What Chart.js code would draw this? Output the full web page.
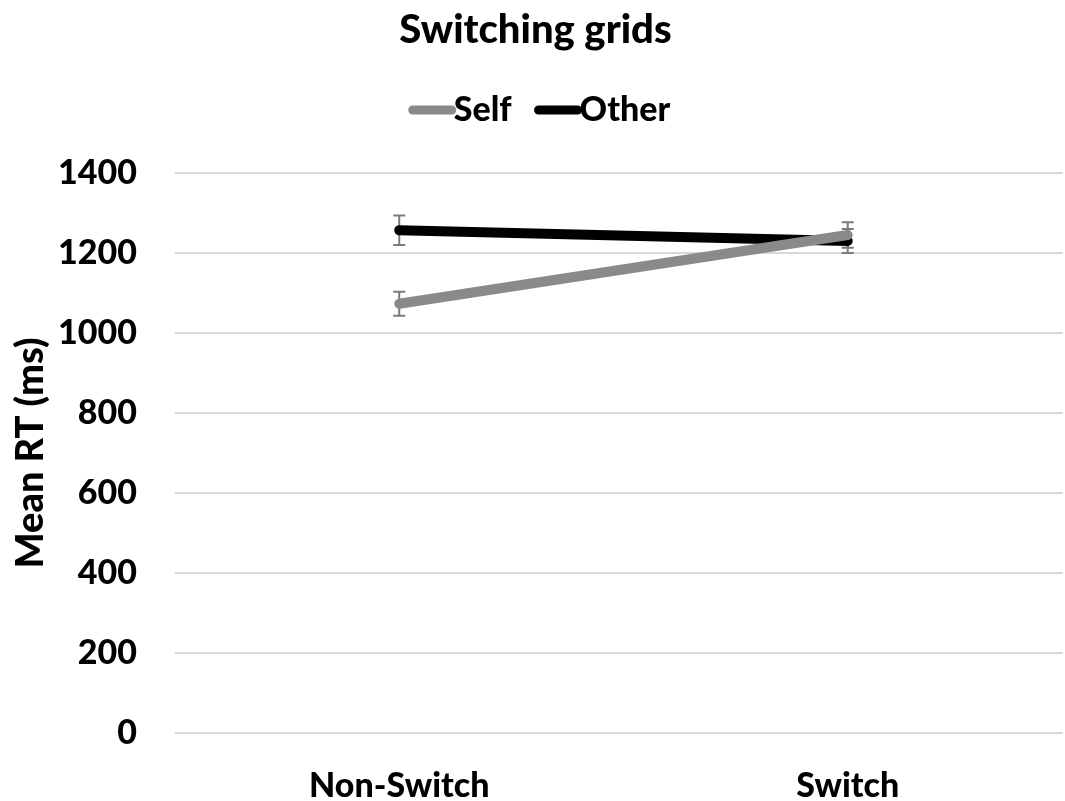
<!DOCTYPE html>
<html>
<head>
<meta charset="utf-8">
<script src="https://cdn.jsdelivr.net/npm/chart.js@4"></script>
<style>
  html, body { margin: 0; padding: 0; background: #fff; }
  #wrap { width: 1065px; height: 801px; }
</style>
</head>
<body>
<div id="wrap"><canvas id="chart" width="1065" height="801"></canvas></div>
<script>
// chart data
const categories = ['Non-Switch', 'Switch'];
const selfValues = [1073, 1245];
const selfErrors = [30, 32];
const otherValues = [1257, 1230];
const otherErrors = [37, 30];
const yTicks = [0, 200, 400, 600, 800, 1000, 1200, 1400];

const FONT = 'Lato, Carlito, sans-serif';
const WEIGHT = '900';

function toPoints(values) {
    return values.map((v, i) => ({ x: i, y: v }));
}

// error bars drawn under the lines
const errorBars = {
    id: 'errorBars',
    beforeDatasetsDraw(chart) {
        const ctx = chart.ctx;
        const xs = chart.scales.x;
        const ys = chart.scales.y;
        ctx.save();
        ctx.strokeStyle = '#7a7a7a';
        ctx.lineWidth = 2;
        chart.data.datasets.forEach((ds) => {
            ds.data.forEach((p, i) => {
                const err = ds.errors[i];
                const x = xs.getPixelForValue(p.x);
                const top = ys.getPixelForValue(p.y + err);
                const bot = ys.getPixelForValue(p.y - err);
                ctx.beginPath();
                ctx.moveTo(x, top); ctx.lineTo(x, bot);
                ctx.moveTo(x - 6, top); ctx.lineTo(x + 6, top);
                ctx.moveTo(x - 6, bot); ctx.lineTo(x + 6, bot);
                ctx.stroke();
            });
        });
        ctx.restore();
    }
};

// legend like the original: short thick line, label right against it
const lineLegend = {
    id: 'lineLegend',
    afterDraw(chart) {
        const ctx = chart.ctx;
        const sets = chart.data.datasets;
        const lineLen = 45, gap = 23, y = 110;
        ctx.save();
        ctx.font = WEIGHT + ' 34px ' + FONT;
        ctx.textBaseline = 'middle';
        ctx.textAlign = 'left';
        let total = 0;
        sets.forEach((ds, i) => {
            total += lineLen + ctx.measureText(ds.label).width + (i ? gap : 0);
        });
        let x = chart.width / 2 + 7 - total / 2;
        sets.forEach((ds, i) => {
            if (i) x += gap;
            ctx.strokeStyle = ds.borderColor;
            ctx.lineWidth = 9;
            ctx.lineCap = 'round';
            ctx.beginPath();
            ctx.moveTo(x + 4, y);
            ctx.lineTo(x + lineLen - 2, y);
            ctx.stroke();
            x += lineLen;
            ctx.fillStyle = '#000';
            ctx.fillText(ds.label, x, y);
            x += ctx.measureText(ds.label).width;
        });
        ctx.restore();
    }
};

new Chart(document.getElementById('chart'), {
    type: 'line',
    data: {
        datasets: [{
            label: 'Self',
            data: toPoints(selfValues),
            errors: selfErrors,
            borderColor: '#8a8a8a',
            backgroundColor: '#8a8a8a',
            borderWidth: 10,
            borderCapStyle: 'round',
            pointRadius: 0
        }, {
            label: 'Other',
            data: toPoints(otherValues),
            errors: otherErrors,
            borderColor: '#000000',
            backgroundColor: '#000000',
            borderWidth: 10,
            borderCapStyle: 'round',
            pointRadius: 0
        }]
    },
    options: {
        responsive: false,
        animation: false,
        layout: { padding: { left: 8, right: 2, top: 4, bottom: 0 } },
        plugins: {
            title: {
                display: true,
                text: 'Switching grids',
                color: '#000',
                font: { family: FONT, size: 40, weight: WEIGHT },
                padding: { top: 2, bottom: 119 }
            },
            legend: { display: false },
            tooltip: { enabled: false }
        },
        scales: {
            x: {
                type: 'linear',
                min: -0.5,
                max: 1.48,
                afterBuildTicks(scale) {
                    scale.ticks = categories.map((c, i) => ({ value: i }));
                },
                afterFit(scale) {
                    scale.height = 68;
                    scale.paddingLeft = 0;
                    scale.paddingRight = 0;
                },
                ticks: {
                    color: '#000',
                    font: { family: FONT, size: 34, weight: WEIGHT },
                    padding: 25,
                    callback: (v) => categories[v]
                },
                grid: { display: false },
                border: { display: false }
            },
            y: {
                min: 0,
                max: 1400,
                afterBuildTicks(scale) {
                    scale.ticks = yTicks.map((v) => ({ value: v }));
                },
                afterFit(scale) {
                    scale.width = 167;
                },
                ticks: {
                    color: '#000',
                    font: { family: FONT, size: 34, weight: WEIGHT },
                    padding: 38,
                    callback: (v) => String(v)
                },
                grid: { color: '#d9d9d9', lineWidth: 2, drawTicks: false },
                border: { display: false },
                title: {
                    display: true,
                    text: 'Mean RT (ms)',
                    color: '#000',
                    font: { family: FONT, size: 38, weight: WEIGHT },
                    padding: { top: 0, bottom: 6 }
                }
            }
        }
    },
    plugins: [errorBars, lineLegend]
});
</script>
</body>
</html>
